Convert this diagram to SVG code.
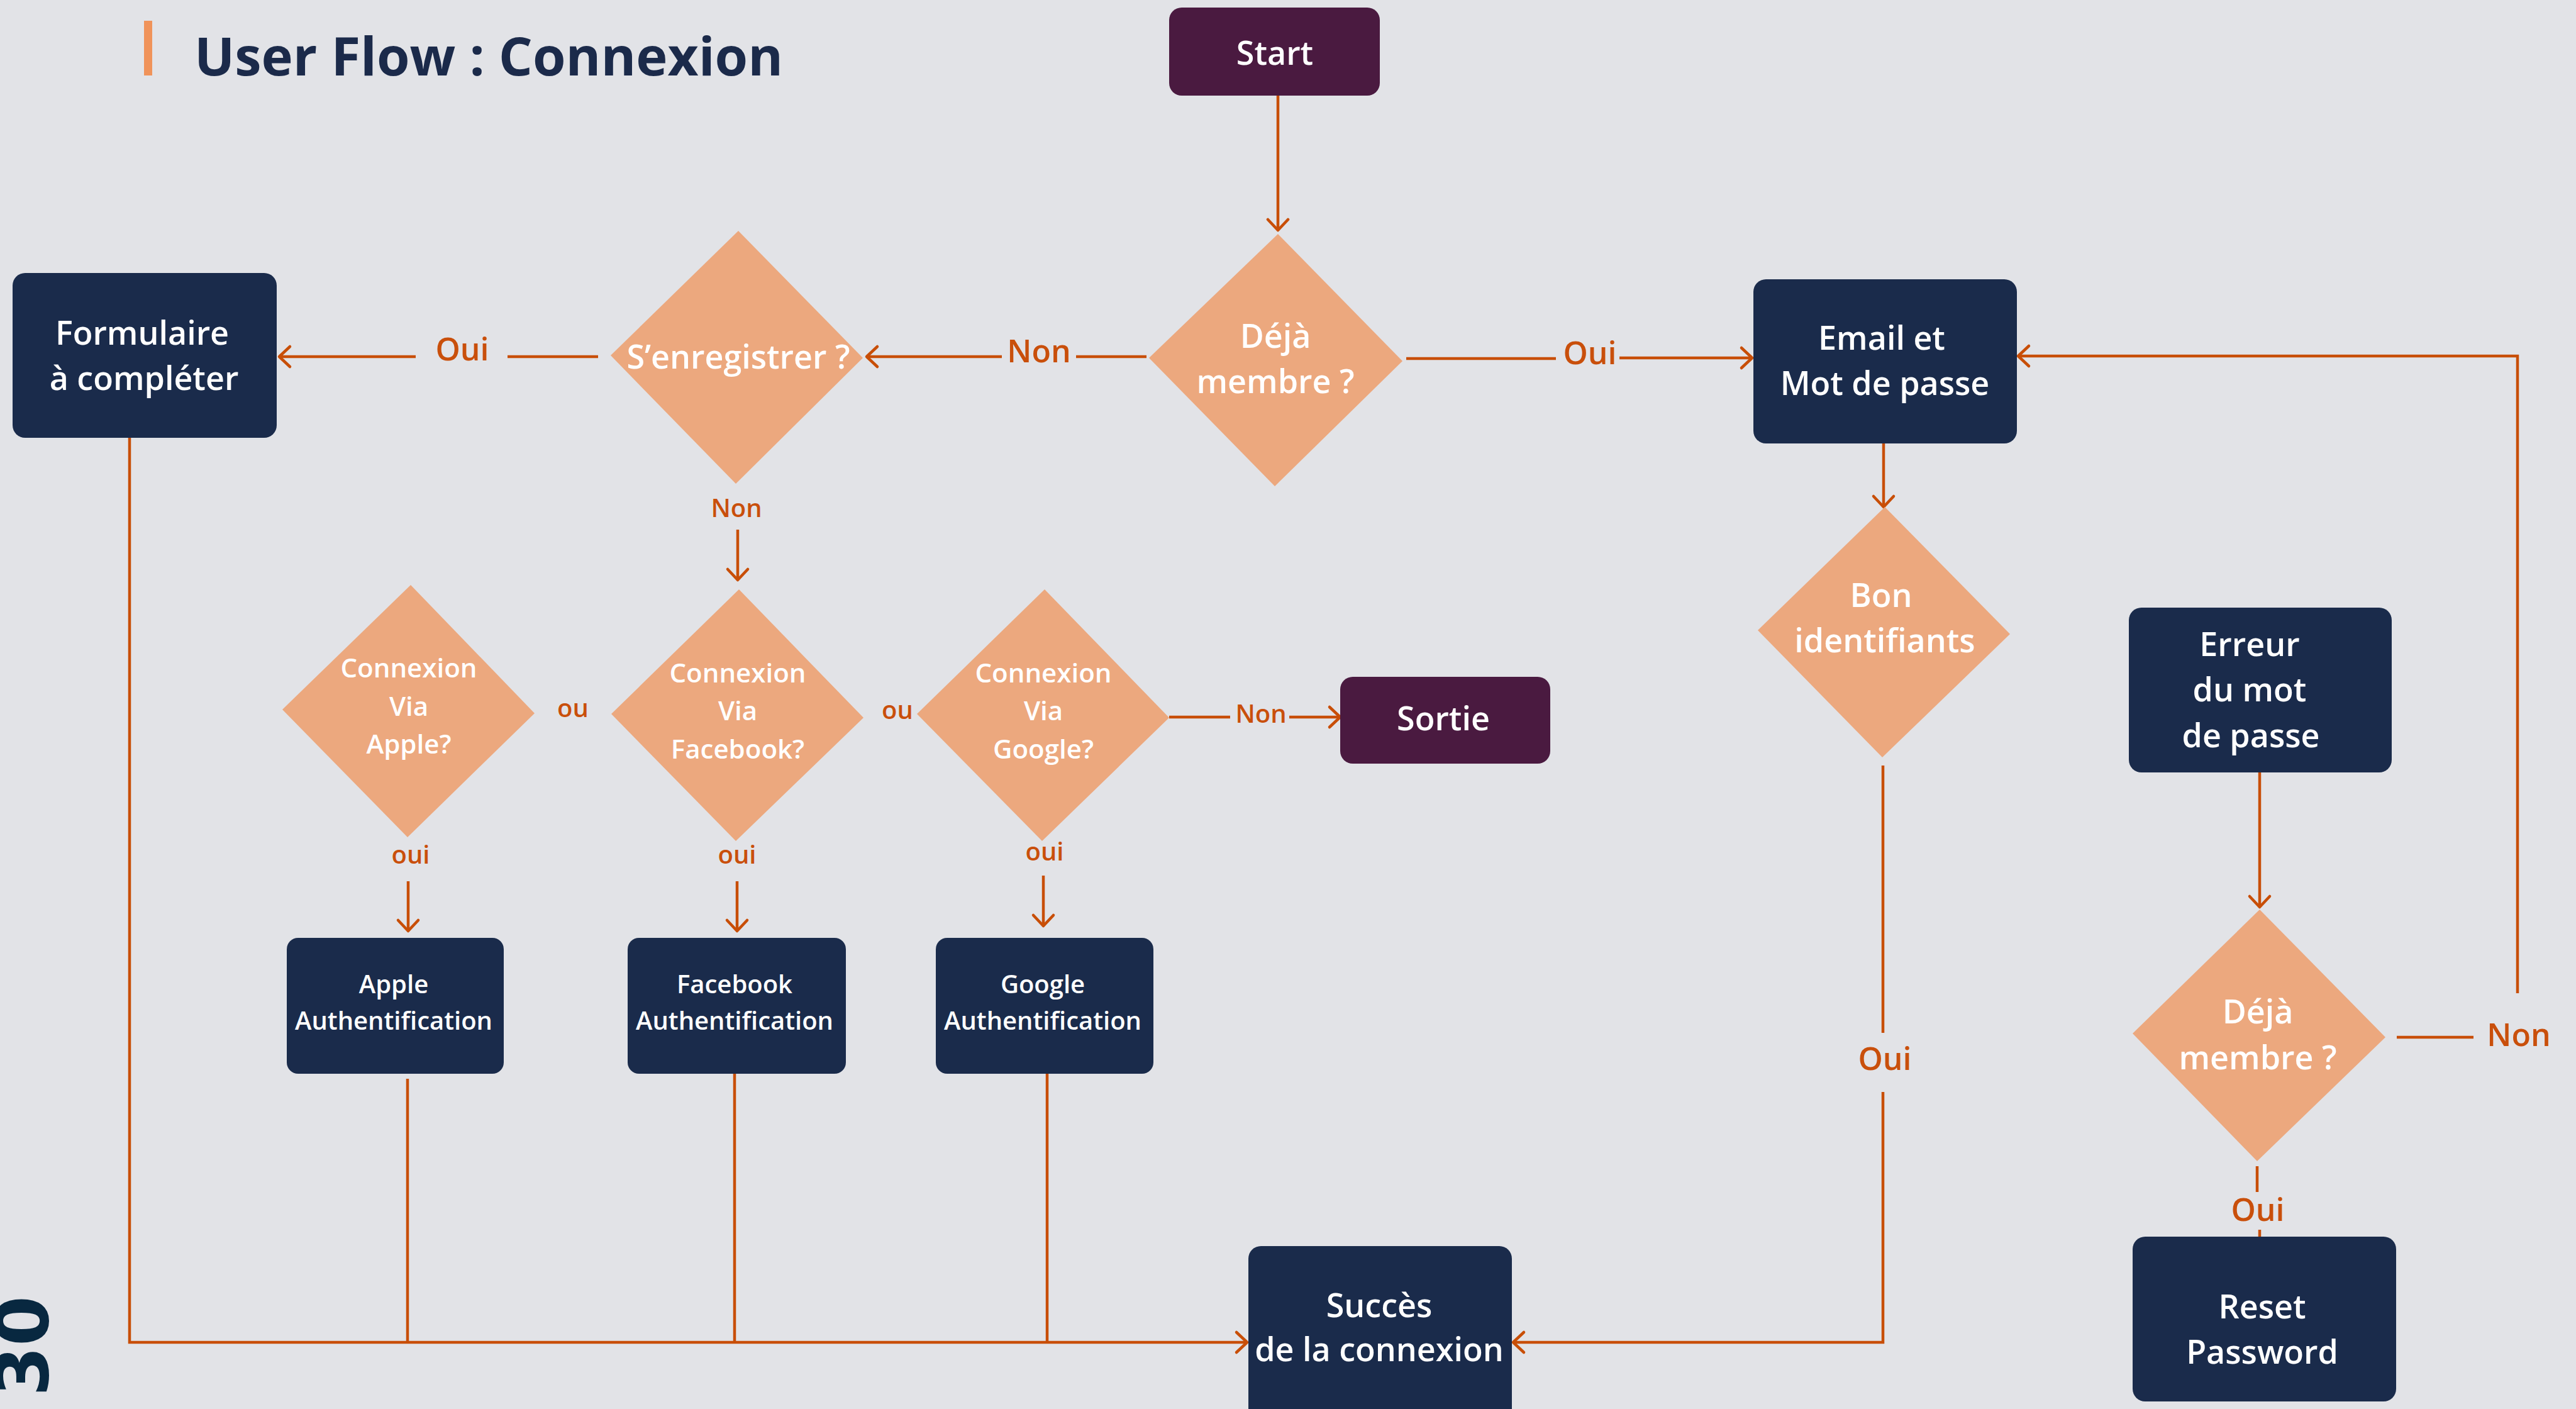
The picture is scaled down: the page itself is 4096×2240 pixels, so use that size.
<svg xmlns="http://www.w3.org/2000/svg" width="4096" height="2240" viewBox="0 0 4096 2240">
<style>
.bg{fill:#e2e3e7}
.navy{fill:#1a2b4b}
.plum{fill:#4a1a40}
.dia{fill:#eca87e}
.t{font-family:"Open Sans","Noto Sans","Liberation Sans",sans-serif;fill:#ffffff;text-anchor:middle;font-weight:600}
.t52{font-size:52px}
.t42{font-size:42px}
.t40{font-size:40px}
.lbl{font-family:"Open Sans","Noto Sans","Liberation Sans",sans-serif;fill:#c94f0b;text-anchor:middle;font-weight:600}
.l50{font-size:50px}
.l40{font-size:40px}
.ln{fill:none;stroke:#c84e07;stroke-width:4.5;stroke-linecap:butt;stroke-linejoin:miter}
</style>
<defs>
<marker id="arr" viewBox="-22 -20 26 40" refX="0" refY="0" markerWidth="26" markerHeight="40" markerUnits="userSpaceOnUse" orient="auto" overflow="visible">
<path d="M-17,-16 L0,0 L-17,16" fill="none" stroke="#c84e07" stroke-width="4.5" stroke-linecap="round" stroke-linejoin="round"/>
</marker>
</defs>
<rect class="bg" x="0" y="0" width="4096" height="2240"/>

<g id="title">
<rect x="229" y="33" width="13" height="87" fill="#f0935a"/>
<text x="309" y="120" font-family="'Open Sans','Noto Sans','Liberation Sans',sans-serif" font-weight="700" font-size="85" fill="#1b2a4a">User Flow : Connexion</text>
</g>

<g id="page-number">
<text transform="translate(76,2060) rotate(-90)" x="0" y="0" text-anchor="end" font-family="'DejaVu Sans',sans-serif" font-weight="700" font-size="115" fill="#082840">30</text>
</g>

<g id="connectors">
<path class="ln" d="M2032,152 L2032,366" marker-end="url(#arr)"/>
<path class="ln" d="M2236,570 L2474,570"/>
<path class="ln" d="M2575,569 L2786,569" marker-end="url(#arr)"/>
<path class="ln" d="M1823,567 L1711,567"/>
<path class="ln" d="M1593,567 L1378,567" marker-end="url(#arr)"/>
<path class="ln" d="M951,567 L807,567"/>
<path class="ln" d="M661,567 L444,567" marker-end="url(#arr)"/>
<path class="ln" d="M1173,842 L1173,922" marker-end="url(#arr)"/>
<path class="ln" d="M1859,1140 L1956,1140"/>
<path class="ln" d="M2050,1140 L2131,1140" marker-end="url(#arr)"/>
<path class="ln" d="M649,1401 L649,1480" marker-end="url(#arr)"/>
<path class="ln" d="M1172,1401 L1172,1480" marker-end="url(#arr)"/>
<path class="ln" d="M1659,1392 L1659,1472" marker-end="url(#arr)"/>
<path class="ln" d="M648,1715 L648,2134"/>
<path class="ln" d="M1168,1707 L1168,2134"/>
<path class="ln" d="M1665,1707 L1665,2134"/>
<path class="ln" d="M206,696 L206,2134 L1983,2134" marker-end="url(#arr)"/>
<path class="ln" d="M2995,705 L2995,806" marker-end="url(#arr)"/>
<path class="ln" d="M2994,1217 L2994,1642"/>
<path class="ln" d="M2994,1736 L2994,2134 L2406,2134" marker-end="url(#arr)"/>
<path class="ln" d="M3593,1228 L3593,1442" marker-end="url(#arr)"/>
<path class="ln" d="M3811,1649 L3933,1649"/>
<path class="ln" d="M4003,1579 L4003,566 L3209,566" marker-end="url(#arr)"/>
<path class="ln" d="M3589,1854 L3589,1895"/>
<path class="ln" d="M3593,1955 L3593,1995" marker-end="url(#arr)"/>

<text class="lbl l50" x="2528" y="579">Oui</text>
<text class="lbl l50" x="1652" y="576">Non</text>
<text class="lbl l50" x="735" y="573">Oui</text>
<text class="lbl l40" x="1171" y="822">Non</text>
<text class="lbl l40" x="911" y="1140">ou</text>
<text class="lbl l40" x="1427" y="1143">ou</text>
<text class="lbl l40" x="2005" y="1149">Non</text>
<text class="lbl l40" x="653" y="1373">oui</text>
<text class="lbl l40" x="1172" y="1373">oui</text>
<text class="lbl l40" x="1661" y="1368">oui</text>
<text class="lbl l50" x="2997" y="1701">Oui</text>
<text class="lbl l50" x="4005" y="1663">Non</text>
<text class="lbl l50" x="3590" y="1941">Oui</text>
</g>

<g id="start">
<rect class="plum" x="1859" y="12" width="335" height="140" rx="20"/>
<text class="t t52" x="2027" y="103">Start</text>
</g>

<g id="deja-membre-1">
<polygon class="dia" points="2032,372 2230,574 2027,773 1827,569"/>
<text class="t t52" x="2028" y="553">Déjà</text>
<text class="t t52" x="2028" y="625">membre ?</text>
</g>

<g id="enregistrer">
<polygon class="dia" points="1174,367 1372,569 1170,769 971,565"/>
<text class="t t52" x="1174" y="586">S’enregistrer ?</text>
</g>

<g id="formulaire">
<rect class="navy" x="20" y="434" width="420" height="262" rx="20"/>
<text class="t t52" x="226" y="548">Formulaire</text>
<text class="t t52" x="229" y="620">à compléter</text>
</g>

<g id="email">
<rect class="navy" x="2788" y="444" width="419" height="261" rx="20"/>
<text class="t t52" x="2992" y="556">Email et</text>
<text class="t t52" x="2997" y="628">Mot de passe</text>
</g>

<g id="bon-identifiants">
<polygon class="dia" points="2997,806 3196,1008 2993,1204 2795,1002"/>
<text class="t t52" x="2991" y="965">Bon</text>
<text class="t t52" x="2997" y="1037">identifiants</text>
</g>

<g id="apple-q">
<polygon class="dia" points="653,930 850,1134 648,1331 449,1128"/>
<text class="t t42" x="650" y="1077">Connexion</text>
<text class="t t42" x="650" y="1138">Via</text>
<text class="t t42" x="650" y="1198">Apple?</text>
</g>

<g id="facebook-q">
<polygon class="dia" points="1175,937 1373,1141 1170,1337 972,1135"/>
<text class="t t42" x="1173" y="1085">Connexion</text>
<text class="t t42" x="1173" y="1145">Via</text>
<text class="t t42" x="1173" y="1206">Facebook?</text>
</g>

<g id="google-q">
<polygon class="dia" points="1661,937 1859,1141 1657,1337 1458,1135"/>
<text class="t t42" x="1659" y="1085">Connexion</text>
<text class="t t42" x="1659" y="1145">Via</text>
<text class="t t42" x="1659" y="1206">Google?</text>
</g>

<g id="sortie">
<rect class="plum" x="2131" y="1076" width="334" height="138" rx="20"/>
<text class="t t52" x="2295" y="1161">Sortie</text>
</g>

<g id="apple-auth">
<rect class="navy" x="456" y="1491" width="345" height="216" rx="18"/>
<text class="t t40" x="626" y="1579">Apple</text>
<text class="t t40" x="626" y="1637">Authentification</text>
</g>

<g id="facebook-auth">
<rect class="navy" x="998" y="1491" width="347" height="216" rx="18"/>
<text class="t t40" x="1168" y="1579">Facebook</text>
<text class="t t40" x="1168" y="1637">Authentification</text>
</g>

<g id="google-auth">
<rect class="navy" x="1488" y="1491" width="346" height="216" rx="18"/>
<text class="t t40" x="1658" y="1579">Google</text>
<text class="t t40" x="1658" y="1637">Authentification</text>
</g>

<g id="erreur">
<rect class="navy" x="3385" y="966" width="418" height="262" rx="20"/>
<text class="t t52" x="3577" y="1043">Erreur</text>
<text class="t t52" x="3577" y="1115">du mot</text>
<text class="t t52" x="3579" y="1188">de passe</text>
</g>

<g id="deja-membre-2">
<polygon class="dia" points="3593,1446 3793,1649 3589,1846 3391,1643"/>
<text class="t t52" x="3590" y="1627">Déjà</text>
<text class="t t52" x="3590" y="1700">membre ?</text>
</g>

<g id="reset">
<rect class="navy" x="3391" y="1966" width="419" height="262" rx="20"/>
<text class="t t52" x="3597" y="2096">Reset</text>
<text class="t t52" x="3597" y="2168">Password</text>
</g>

<g id="succes">
<rect class="navy" x="1985" y="1981" width="419" height="300" rx="20"/>
<text class="t t52" x="2193" y="2094">Succès</text>
<text class="t t52" x="2193" y="2164">de la connexion</text>
</g>
</svg>
